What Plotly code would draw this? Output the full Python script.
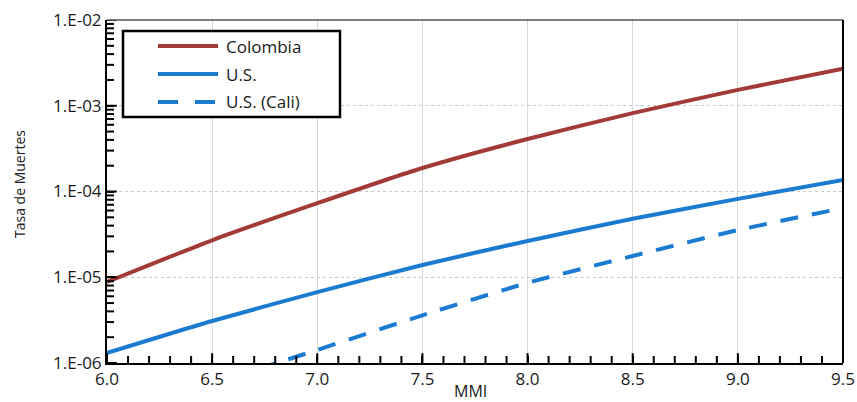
import plotly.graph_objects as go

# MMI intensity levels
mmi = [6.0, 6.5, 7.0, 7.5, 8.0, 8.5, 9.0, 9.5]

# Fatality rates by intensity
colombia = [8.8e-6, 2.7e-5, 7.3e-5, 1.88e-4, 4.1e-4, 8.2e-4, 1.53e-3, 2.7e-3]
us = [1.31e-6, 3.09e-6, 6.7e-6, 1.39e-5, 2.65e-5, 4.8e-5, 8.2e-5, 1.36e-4]
us_cali = [2.0e-7, 5.7e-7, 1.42e-6, 3.6e-6, 8.6e-6, 1.77e-5, 3.55e-5, 6.4e-5]

series_names = ["Colombia", "U.S.", "U.S. (Cali)"]
series_colors = ["#A23A38", "#1A7BD0", "#1A7BD0"]
series_dash = ["solid", "solid", "18px,14px"]
series_values = [colombia, us, us_cali]

y_tickvals = [1e-6, 1e-5, 1e-4, 1e-3, 1e-2]
y_ticktext = ["1.E-06", "1.E-05", "1.E-04", "1.E-03", "1.E-02"]
x_major = [6.0, 6.5, 7.0, 7.5, 8.0, 8.5, 9.0, 9.5]
x_minor = [round(6.0 + 0.1 * i, 1) for i in range(1, 35) if i % 5 != 0]
y_minor = [m * 10.0 ** e for e in range(-6, -2) for m in range(2, 10)]

FONT = "Open Sans"
W, H = 857, 402
ML, MR, MT, MB = 107, 14, 20, 39
PW, PH = W - ML - MR, H - MT - MB
X_MIN, X_MAX = 6.0, 9.5
Y_MIN = 1e-6


def px_x(px):
    return (px - ML) / PW


def px_y(py):
    return (H - MB - py) / PH


fig = go.Figure()
for name, vals, col, dash in zip(series_names, series_values, series_colors, series_dash):
    fig.add_trace(go.Scatter(
        x=mmi, y=vals, mode="lines", name=name,
        line=dict(color=col, width=4, dash=dash, shape="spline", smoothing=0.6),
        showlegend=False,
    ))


def tick_marks(xs, ys, symbol, length):
    # short marks centred on the axis edge; clipping leaves only the inner half
    return go.Scatter(
        x=xs, y=ys, mode="markers", cliponaxis=True, hoverinfo="skip", showlegend=False,
        marker=dict(symbol=symbol, size=2 * length, color="black",
                    line=dict(color="black", width=2)),
    )


fig.add_trace(tick_marks(x_major, [Y_MIN] * len(x_major), "line-ns", 7))
fig.add_trace(tick_marks(x_minor, [Y_MIN] * len(x_minor), "line-ns", 5))
fig.add_trace(tick_marks([X_MIN] * len(y_tickvals), y_tickvals, "line-ew", 7))
fig.add_trace(tick_marks([X_MIN] * len(y_minor), y_minor, "line-ew", 5))

tick_font = dict(family=FONT, size=17, color="#1a1a1a")

shapes = [
    # top frame (thin grey) and right frame (black)
    dict(type="line", xref="paper", yref="paper", x0=0, x1=1, y0=1, y1=1,
         line=dict(color="#555555", width=1.5)),
    dict(type="line", xref="paper", yref="paper", x0=1, x1=1, y0=0, y1=1,
         line=dict(color="black", width=2)),
    # legend box
    dict(type="rect", xref="paper", yref="paper",
         x0=px_x(123), x1=px_x(340), y0=px_y(117), y1=px_y(31),
         line=dict(color="black", width=2.5), fillcolor="white"),
]
annotations = []
legend_rows = [46, 74, 102]
for name, col, dash, row in zip(series_names, series_colors, series_dash, legend_rows):
    if dash == "solid":
        shapes.append(dict(type="line", xref="paper", yref="paper",
                           x0=px_x(158), x1=px_x(218), y0=px_y(row), y1=px_y(row),
                           line=dict(color=col, width=4)))
    else:
        for a, b in [(158, 178), (195, 215)]:
            shapes.append(dict(type="line", xref="paper", yref="paper",
                               x0=px_x(a), x1=px_x(b), y0=px_y(row), y1=px_y(row),
                               line=dict(color=col, width=4)))
    annotations.append(dict(xref="paper", yref="paper", x=px_x(224), y=px_y(row),
                            xanchor="left", yanchor="middle", showarrow=False,
                            text=name, font=dict(family=FONT, size=17, color="#1a1a1a")))

annotations.append(dict(xref="paper", yref="paper", x=px_x(470), y=px_y(391),
                        xanchor="center", yanchor="middle", showarrow=False,
                        text="MMI", font=dict(family=FONT, size=16, color="#1a1a1a")))
annotations.append(dict(xref="paper", yref="paper", x=px_x(19), y=px_y(184),
                        xanchor="center", yanchor="middle", showarrow=False, textangle=-90,
                        text="Tasa de Muertes", font=dict(family=FONT, size=14, color="#1a1a1a")))

fig.update_layout(
    width=W, height=H,
    margin=dict(l=ML, r=MR, t=MT, b=MB, pad=0),
    paper_bgcolor="white", plot_bgcolor="white",
    xaxis=dict(
        range=[X_MIN, X_MAX], tick0=6.0, dtick=0.5, tickformat=".1f",
        showline=True, linecolor="black", linewidth=2,
        ticks="inside", ticklen=7, tickwidth=2, tickcolor="black",
        showgrid=True, gridcolor="#d9d9d9", zeroline=False, automargin=False,
        tickfont=tick_font,
    ),
    yaxis=dict(
        type="log", range=[-6, -2], tickmode="array", tickvals=y_tickvals, ticktext=y_ticktext,
        showline=True, linecolor="black", linewidth=2,
        ticks="inside", ticklen=7, tickwidth=2, tickcolor="black",
        showgrid=True, gridcolor="#c8c8c8", griddash="dot", zeroline=False, automargin=False,
        tickfont=tick_font,
    ),
    shapes=shapes, annotations=annotations,
    showlegend=False,
)

fig.write_html("out.html")
